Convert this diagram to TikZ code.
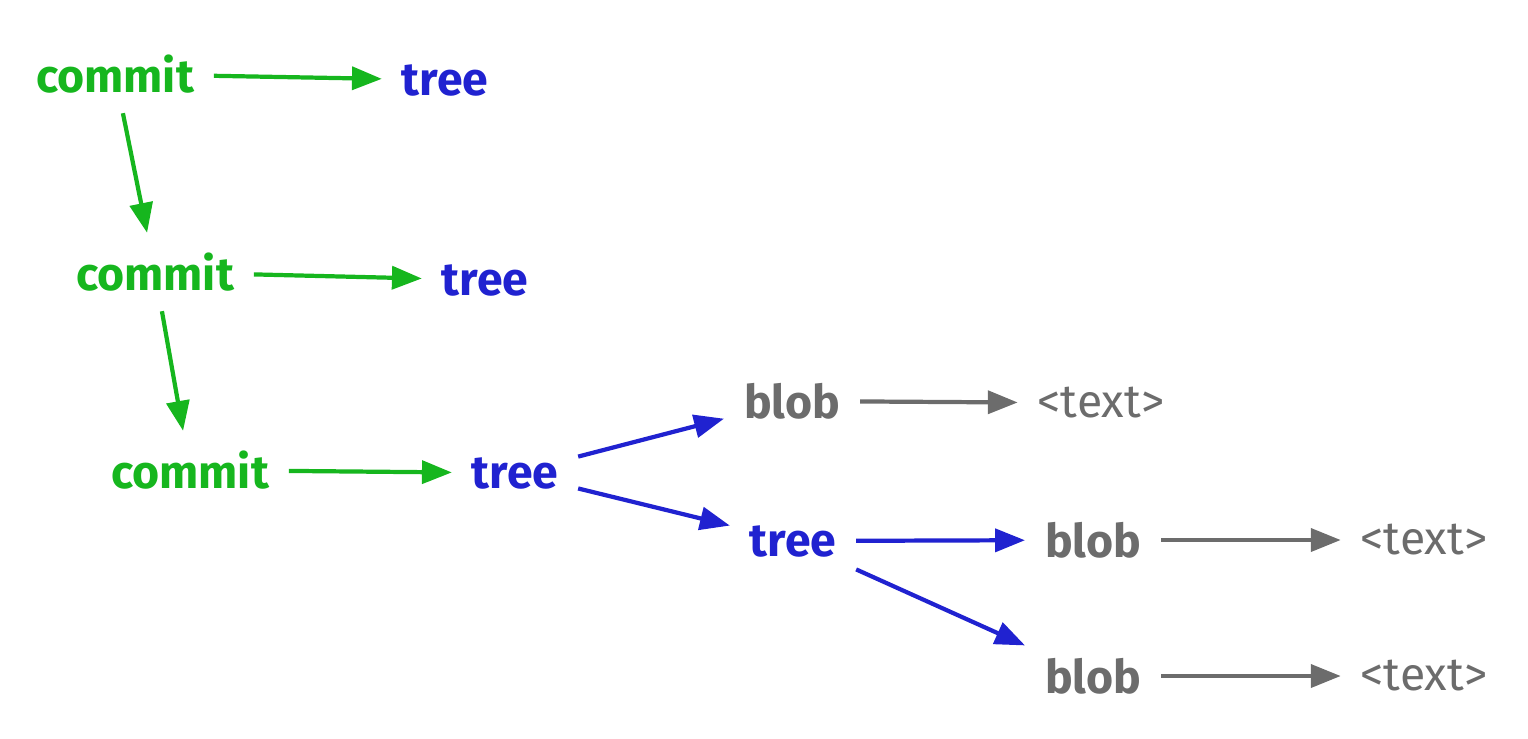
\documentclass[tikz,border=0pt]{standalone}
\usepackage{fontspec}
\setmainfont{Fira Sans}
\usepackage{tikz}
\usetikzlibrary{arrows.meta}

\definecolor{commitgreen}{RGB}{22,182,30}
\definecolor{treeblue}{RGB}{32,34,208}
\definecolor{blobgray}{RGB}{108,108,108}

\tikzset{
  obj/.style={inner sep=0pt, outer sep=0.2cm, font=\fontsize{13.2}{16}\selectfont\bfseries},
  commitobj/.style={obj, text=commitgreen},
  treeobj/.style={obj, text=treeblue},
  blobobj/.style={obj, text=blobgray},
  textobj/.style={obj, text=blobgray, font=\fontsize{13.2}{16}\selectfont},
  link/.style={-{Triangle[length=8.5pt,width=6.5pt]}, line width=1.2pt}
}

\begin{document}
\begin{tikzpicture}
\useasboundingbox (0,0) rectangle (15.28,7.38);

\node[commitobj] (C1) at (1.15,6.64) {commit};
\node[treeobj]   (T1) at (4.45,6.58) {tree};
\node[commitobj] (C2) at (1.55,4.66) {commit};
\node[treeobj]   (T2) at (4.85,4.58) {tree};
\node[commitobj] (C3) at (1.90,2.68) {commit};
\node[treeobj]   (T3) at (5.15,2.65) {tree};

\node[blobobj]   (B1) at (7.92,3.37) {blob};
\node[textobj]   (X1) at (11.01,3.35) {<text>};
\node[treeobj]   (T4) at (7.93,1.97) {tree};
\node[blobobj]   (B2) at (10.93,1.98) {blob};
\node[textobj]   (X2) at (14.24,1.98) {<text>};
\node[blobobj]   (B3) at (10.93,0.62) {blob};
\node[textobj]   (X3) at (14.24,0.62) {<text>};

% commits
\path[link, commitgreen] (C1) edge (T1);
\path[link, commitgreen] (C1) edge (C2);
\path[link, commitgreen] (C2) edge (T2);
\path[link, commitgreen] (C2) edge (C3);
\path[link, commitgreen] (C3) edge (T3);

% trees
\path[link, treeblue] (T3) edge (B1);
\path[link, treeblue] (T3) edge (T4);
\path[link, treeblue] (T4) edge (B2);
\path[link, treeblue] (T4) edge (B3);

% blobs
\path[link, blobgray] (B1) edge (X1);
\path[link, blobgray] (B2) edge (X2);
\path[link, blobgray] (B3) edge (X3);
\end{tikzpicture}
\end{document}
